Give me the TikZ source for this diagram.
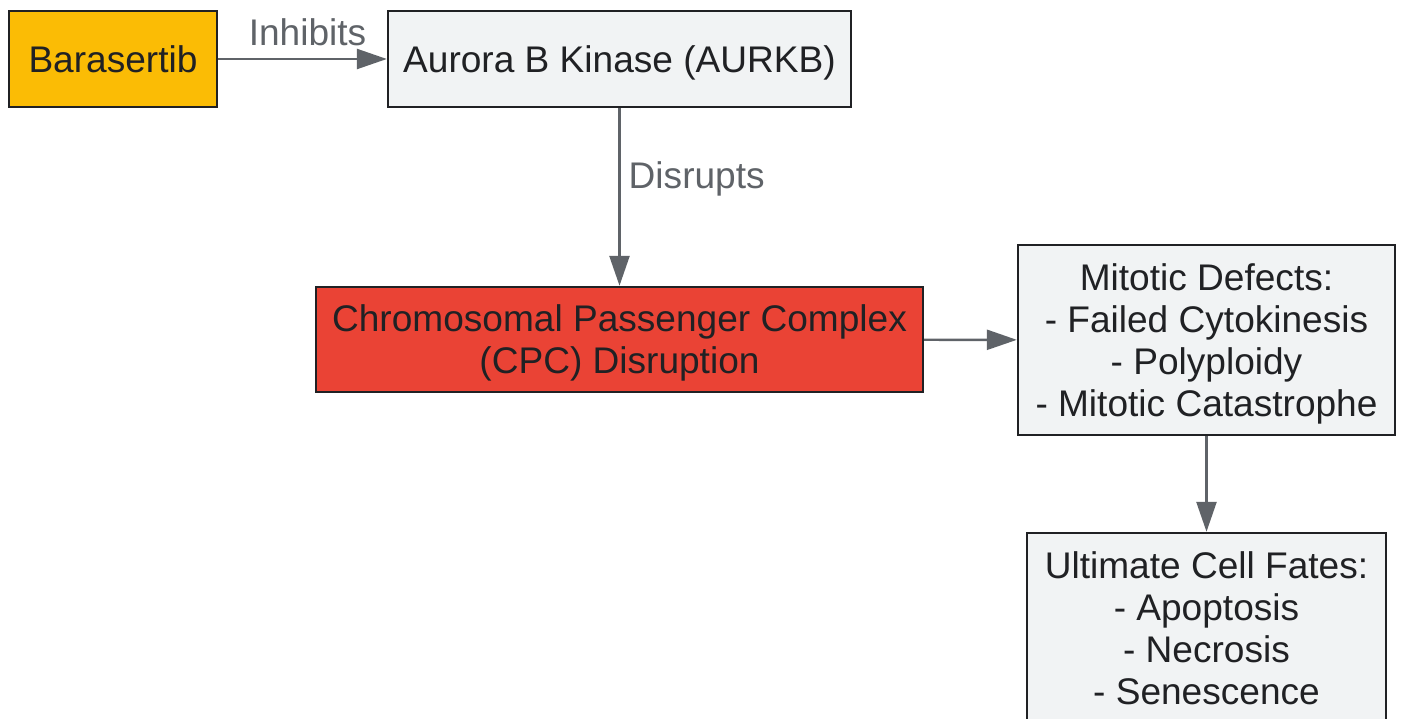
\documentclass[tikz,border=0pt]{standalone}
\usepackage{fontspec}
\setmainfont{Liberation Sans}
\usepackage{xcolor}
\usetikzlibrary{arrows.meta}

\definecolor{drugyellow}{HTML}{FBBC05}
\definecolor{cpcred}{HTML}{EA4335}
\definecolor{boxgrey}{HTML}{F1F3F4}
\definecolor{edgegrey}{HTML}{5F6368}
\definecolor{inkdark}{HTML}{202124}

\tikzset{
  box/.style={draw=inkdark, line width=1.4pt, text=inkdark, align=center, inner sep=0pt, text depth=0pt},
  link/.style={-{Triangle[length=0.6cm, width=0.4cm]}, draw=edgegrey, line width=1.4pt},
  linklabel/.style={text=edgegrey, inner sep=0pt}
}

\begin{document}
\begin{tikzpicture}[x=0.02cm, y=-0.02cm, font=\fontsize{21.1}{23.9}\selectfont]
                \useasboundingbox (0,0) rectangle (1401,719);
                \clip (0,0) rectangle (1401,719);
                \node[box, fill=drugyellow, minimum width=4.16cm, minimum height=1.92cm] (baras) at (113,59) {Barasertib};
                \node[box, fill=boxgrey, minimum width=9.26cm, minimum height=1.92cm] (aurkb) at (619.5,59) {Aurora B Kinase (AURKB)};
                \node[box, fill=cpcred, minimum width=12.14cm, minimum height=2.1cm] (cpc) at (619.5,339.5) {Chromosomal Passenger Complex\\(CPC) Disruption};
                \node[box, fill=boxgrey, minimum width=7.54cm, minimum height=3.8cm] (defects) at (1206.5,340) {Mitotic Defects:\\- Failed Cytokinesis\\- Polyploidy\\- Mitotic Catastrophe};
                \node[box, fill=boxgrey, minimum width=7.18cm, minimum height=3.8cm] (fates) at (1206.5,628) {Ultimate Cell Fates:\\- Apoptosis\\- Necrosis\\- Senescence};
                \draw[link] (baras) -- node[linklabel, above=0.24cm, xshift=0.1cm] {Inhibits} (aurkb);
                \draw[link] (aurkb) -- node[linklabel, pos=0.4, right=0.16cm] {Disrupts} (cpc);
                \draw[link] (cpc) -- (defects);
                \draw[link] (defects) -- (fates);
            \end{tikzpicture}
\end{document}
